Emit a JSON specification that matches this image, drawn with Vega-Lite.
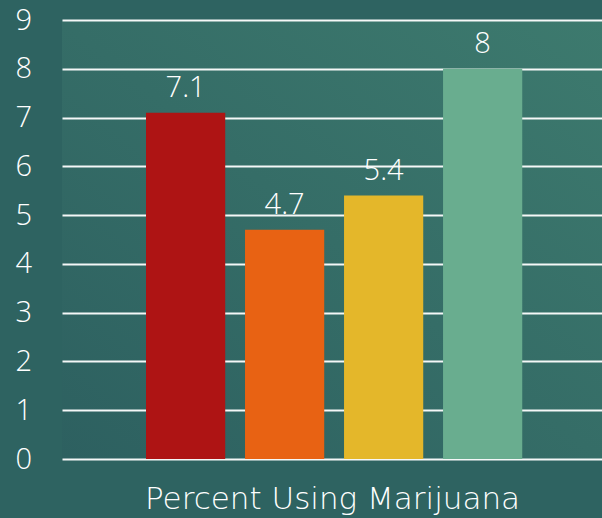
{
  "$schema": "https://vega.github.io/schema/vega-lite/v6.json",
  "autosize": {"type": "none"},
  "width": 540,
  "height": 439,
  "padding": {"left": 62, "top": 20, "right": 0, "bottom": 59},
  "background": "#2E6361",
  "data": {
    "values": [
      {"series": "A", "value": 7.1},
      {"series": "B", "value": 4.7},
      {"series": "C", "value": 5.4},
      {"series": "D", "value": 8}
    ]
  },
  "encoding": {
    "x": {
      "field": "series",
      "type": "nominal",
      "sort": null,
      "scale": {"paddingInner": 0.2, "paddingOuter": 0.827, "align": 0.513},
      "axis": {
        "labels": false,
        "ticks": false,
        "domain": false,
        "title": "Percent Using Marijuana",
        "titleFont": "DejaVu Sans",
        "titleFontSize": 31,
        "titleFontWeight": 200,
        "titleColor": "#FFFFFF",
        "titlePadding": 25
      }
    },
    "y": {
      "field": "value",
      "type": "quantitative",
      "scale": {"domain": [0, 9], "nice": false},
      "axis": {
        "values": [0, 1, 2, 3, 4, 5, 6, 7, 8, 9],
        "title": null,
        "domain": false,
        "ticks": false,
        "grid": true,
        "gridColor": "#FFFFFF",
        "gridWidth": 2,
        "gridOpacity": 0.95,
        "labelAlign": "left",
        "labelBaseline": "middle",
        "labelPadding": 47,
        "labelFont": "Open Sans",
        "labelFontSize": 29,
        "labelFontWeight": 300,
        "labelColor": "#FFFFFF"
      }
    }
  },
  "layer": [
    {
      "mark": {"type": "bar"},
      "encoding": {
        "color": {
          "field": "series",
          "type": "nominal",
          "sort": null,
          "scale": {"range": ["#AE1414", "#E86213", "#E4B72A", "#69AD8F"]},
          "legend": null
        }
      }
    },
    {
      "mark": {
        "type": "text",
        "baseline": "bottom",
        "dy": -10,
        "font": "Open Sans",
        "fontSize": 29,
        "fontWeight": 300,
        "color": "#FFFFFF"
      },
      "encoding": {"text": {"field": "value", "type": "quantitative"}}
    }
  ],
  "config": {
    "view": {
      "stroke": null,
      "fill": {
        "gradient": "linear",
        "x1": 0, "y1": 1, "x2": 1, "y2": 0,
        "stops": [
          {"offset": 0, "color": "#2D6060"},
          {"offset": 1, "color": "#3D7A6E"}
        ]
      }
    }
  }
}
